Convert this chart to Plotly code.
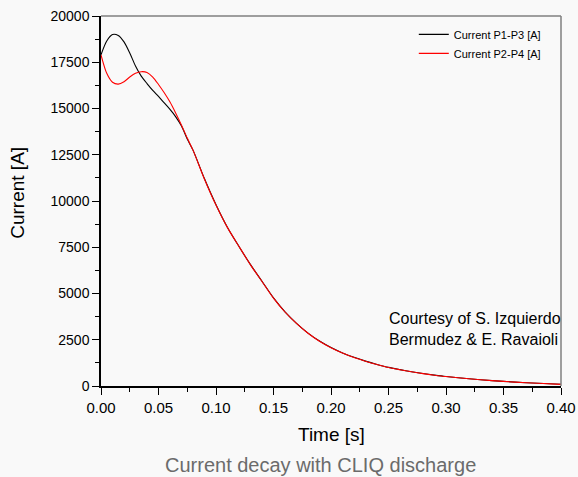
import plotly.graph_objects as go

# Time axis for the early part (s)
t_early = [0.0, 0.005, 0.01, 0.015, 0.02, 0.025, 0.03, 0.035, 0.04, 0.045,
           0.05, 0.055, 0.06, 0.065, 0.07, 0.075, 0.08]
p13_early = [17900, 18650, 19000, 18950, 18600, 18000, 17300, 16750, 16350, 15980,
             15650, 15300, 14950, 14550, 14050, 13350, 12750]
p24_early = [17900, 16900, 16420, 16320, 16450, 16700, 16900, 16990, 16950, 16700,
             16300, 15850, 15350, 14750, 14100, 13400, 12750]

# Common decay (both currents overlap)
t_late = [0.09, 0.1, 0.11, 0.12, 0.13, 0.14, 0.15, 0.16, 0.17, 0.18, 0.19, 0.2,
          0.21, 0.22, 0.23, 0.24, 0.25, 0.26, 0.27, 0.28, 0.29, 0.3, 0.32, 0.34,
          0.36, 0.38, 0.4]
p24_late = [11180, 9780, 8560, 7540, 6550, 5650, 4750, 4000, 3380, 2850, 2420, 2070,
            1780, 1540, 1340, 1160, 1000, 880, 770, 670, 585, 510, 390, 290,
            210, 145, 90]
p13_late = [11200, 9800, 8570, 7540, 6560, 5660, 4760, 4010, 3390, 2860, 2430, 2080,
            1790, 1550, 1345, 1165, 1005, 885, 773, 672, 587, 512, 392, 292,
            212, 147, 92]

t = t_early + t_late
p13 = p13_early + p13_late
p24 = p24_early + p24_late

x_ticks = [0.0, 0.05, 0.1, 0.15, 0.2, 0.25, 0.3, 0.35, 0.4]
x_tick_labels = ["0.00", "0.05", "0.10", "0.15", "0.20", "0.25", "0.30", "0.35", "0.40"]
y_ticks = [0, 2500, 5000, 7500, 10000, 12500, 15000, 17500, 20000]
y_tick_labels = ["0", "2500", "5000", "7500", "10000", "12500", "15000", "17500", "20000"]

FONT = "Liberation Sans, Arial, sans-serif"

fig = go.Figure()
fig.add_trace(go.Scatter(x=t, y=p13, mode="lines", name="Current P1-P3 [A]",
                         line=dict(color="black", width=1.1, shape="spline", smoothing=0.8)))
fig.add_trace(go.Scatter(x=t, y=p24, mode="lines", name="Current P2-P4 [A]",
                         line=dict(color="red", width=1.1, shape="spline", smoothing=0.8)))

axis_common = dict(showgrid=False, zeroline=False, showline=True, linecolor="black",
                   linewidth=1.5, ticks="outside", ticklen=7, tickwidth=1.3,
                   tickcolor="black", mirror=False, automargin=False)

fig.update_xaxes(range=[0, 0.4], tickvals=x_ticks, ticktext=x_tick_labels,
                 tickfont=dict(family=FONT, size=15, color="black"),
                 minor=dict(dtick=0.025, ticks="outside", ticklen=4, tickwidth=1.2,
                            tickcolor="black"),
                 **axis_common)
fig.update_yaxes(range=[0, 20000], tickvals=y_ticks, ticktext=y_tick_labels,
                 tickfont=dict(family=FONT, size=14, color="black"),
                 minor=dict(dtick=1250, ticks="outside", ticklen=4, tickwidth=1.2,
                            tickcolor="black"),
                 **axis_common)

# top and right frame lines (gray)
fig.add_shape(type="line", xref="paper", yref="paper", x0=0, x1=1, y0=1, y1=1,
              line=dict(color="#7f7f7f", width=1.5))
fig.add_shape(type="line", xref="paper", yref="paper", x0=1, x1=1, y0=0, y1=1,
              line=dict(color="#7f7f7f", width=1.5))

fig.add_annotation(text="Time [s]", xref="paper", yref="paper", x=0.5, y=-0.132,
                   showarrow=False, yanchor="middle",
                   font=dict(family=FONT, size=19, color="black"))
fig.add_annotation(text="Current [A]", xref="paper", yref="paper", x=-0.182, y=0.523,
                   showarrow=False, textangle=-90, xanchor="center", yanchor="middle",
                   font=dict(family=FONT, size=19, color="black"))
fig.add_annotation(text="Current decay with CLIQ discharge", xref="paper", yref="paper",
                   x=0.478, y=-0.2135, showarrow=False, yanchor="middle",
                   font=dict(family=FONT, size=20, color="#6b6b6b"))
fig.add_annotation(text="Courtesy of S. Izquierdo<br>Bermudez &amp; E. Ravaioli",
                   xref="paper", yref="paper", x=0.622, y=0.155, showarrow=False,
                   xanchor="left", yanchor="middle", align="left",
                   font=dict(family=FONT, size=16, color="black"))

fig.update_layout(
    width=578, height=477,
    margin=dict(l=101, r=17, t=16, b=91, autoexpand=False),
    paper_bgcolor="#f9f9f9", plot_bgcolor="#f9f9f9",
    showlegend=True,
    legend=dict(x=0.68, y=0.9895, xanchor="left", yanchor="top",
                bgcolor="rgba(0,0,0,0)", font=dict(family=FONT, size=11, color="black"),
                tracegroupgap=0, itemwidth=30),
)

fig.write_html("out.html", config={"displayModeBar": False},
               post_script="document.body.style.margin='0';document.body.style.overflow='hidden';")
